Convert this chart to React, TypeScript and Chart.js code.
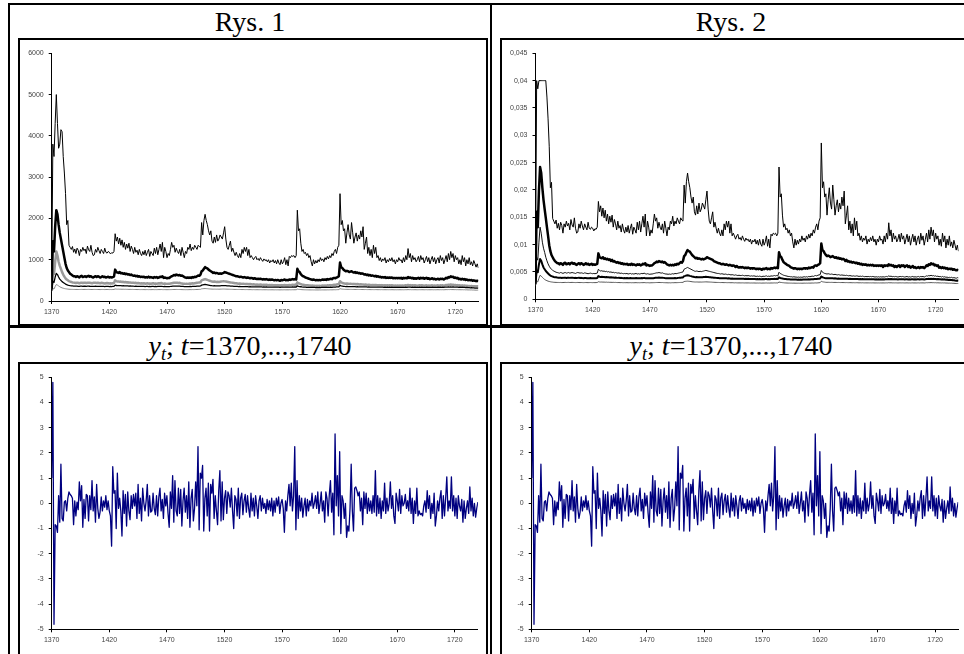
import { useEffect, useRef } from 'react';
import { Chart, registerables } from 'chart.js';
Chart.register(...registerables);

const YEARS: number[] = Array.from({ length: 371 }, (_, i) => 1370 + i);
const X_TICKS = [1370, 1420, 1470, 1520, 1570, 1620, 1670, 1720];
const Y1_TICKS = [0, 1000, 2000, 3000, 4000, 5000, 6000];
const Y2_TICKS = [0, 0.005, 0.01, 0.015, 0.02, 0.025, 0.03, 0.035, 0.04, 0.045];
const Y3_TICKS = [-5, -4, -3, -2, -1, 0, 1, 2, 3, 4, 5];

// Rys. 1
const R1_A = [
450,3800,3500,4300,5000,4300,3700,3800,4150,4100,
3500,3100,2600,1850,1950,1350,1300,1250,1320,1180,
1260,1150,1280,1230,1100,1250,1200,1300,1220,1260,
1150,1330,1240,1200,1350,1180,1100,1120,1250,1180,
1300,1220,1150,1250,1200,1150,1280,1180,1160,1200,
1180,1140,1170,1160,1200,1630,1450,1550,1380,1520,
1350,1480,1300,1420,1250,1380,1280,1400,1200,1330,
1250,1150,1300,1180,1230,1120,1250,1150,1100,1200,
1120,1230,1100,1180,1250,1080,1200,1150,1100,1280,
1150,1300,1120,1250,1380,1200,1420,1050,1300,1200,
1050,1150,1100,1250,1420,1300,1350,1180,1280,1200,
1150,1250,1100,1300,1180,1050,1200,1150,1300,1250,
1380,1220,1300,1250,1350,1300,1250,1350,1320,1300,
1900,1600,1950,2100,1950,1850,1700,1600,1700,1450,
1400,1550,1420,1600,1450,1500,1600,1550,1500,1650,
1800,1500,1300,1250,1350,1450,1200,1280,1180,1100,
1180,1100,1050,1150,1050,1250,1150,1300,1200,1300,
1100,1250,1050,1100,1050,1000,1050,1080,1000,1030,
980,1050,1000,960,1020,980,1000,950,1000,920,
980,950,1000,920,980,900,1000,920,880,1000,
900,950,1050,880,1000,850,1080,1050,1100,1080,
1100,1050,1100,2200,1700,1750,1400,1200,1250,1150,
1180,1100,1150,1050,1100,950,850,1000,900,980,
920,1000,950,1050,980,1020,950,1050,1000,1080,
1020,1100,1050,1150,1100,1200,1250,1150,1300,1350,
2600,1850,1950,1700,1750,1400,1650,1850,1600,1500,
1900,1650,1400,1550,1650,1450,1600,1500,1700,1550,
1800,1250,1400,1550,1150,1300,1100,1250,1050,1350,
1150,1300,1050,1100,980,1050,950,1020,980,1050,
920,1000,950,1030,970,1050,950,1000,900,1000,
950,1050,980,1000,920,1050,950,1100,1000,1270,
1050,1150,950,1100,1000,1050,950,1000,1080,950,
1100,1000,1050,920,1000,1080,950,1050,900,1000,
1080,950,1050,900,1000,1050,920,1100,980,1050,
900,1000,1100,950,1150,1000,1200,1050,1150,950,
1100,1000,1050,900,1000,880,1100,950,1050,850,
1000,900,1050,880,950,850,980,900,820,900,
800];

const R1_B = [
300,1450,1200,1800,2200,2100,1850,1650,1500,1350,
1200,1050,900,800,740,700,660,640,620,600,
600,580,600,590,570,600,610,580,590,600,
580,600,610,590,600,580,570,590,600,580,
600,590,570,580,600,580,590,570,580,590,
570,580,570,580,590,760,700,690,680,700,
670,680,660,670,650,660,640,650,630,640,
620,610,620,600,610,590,600,580,590,580,
590,570,580,570,590,570,580,570,560,580,
570,580,560,570,590,580,600,560,570,560,
550,560,560,580,600,610,630,620,640,630,
620,630,610,620,600,580,570,560,570,560,
570,560,580,570,590,580,600,620,610,640,
720,740,780,820,800,790,760,740,720,700,
680,690,670,680,670,660,670,660,670,680,
700,690,680,670,660,650,640,630,620,610,
600,600,590,580,590,580,570,580,570,560,
570,560,550,560,550,540,550,540,530,540,
530,540,530,520,530,520,530,520,510,520,
510,520,510,500,510,500,510,500,490,510,
500,510,520,500,510,500,520,510,520,530,
520,530,520,780,720,700,650,620,600,590,
570,560,550,540,530,520,510,520,510,500,
510,500,510,500,510,520,510,520,510,530,
520,530,540,530,550,560,550,570,580,600,
930,820,800,760,740,720,730,720,700,710,
720,700,690,700,680,690,670,680,660,670,
660,640,650,630,640,620,630,610,620,610,
600,610,590,600,580,590,570,580,570,580,
560,570,560,570,560,570,550,560,550,560,
550,560,550,560,540,560,550,560,550,580,
560,570,550,560,540,550,540,550,560,540,
560,550,560,540,550,560,540,550,530,540,
550,530,540,520,530,540,520,540,530,540,
520,540,560,550,580,570,600,580,590,560,
570,550,560,530,540,520,540,520,530,510,
520,500,510,500,510,490,500,490,480,490,
480];

const R1_C = [
280,700,650,950,1200,1100,950,850,780,700,
640,590,550,520,500,480,470,460,450,445,
440,435,445,440,430,440,445,435,440,445,
435,440,445,440,435,430,440,445,440,435,
440,435,430,440,435,430,425,430,435,430,
425,430,425,430,435,500,480,470,475,465,
470,460,465,455,460,450,455,445,450,440,
445,440,435,440,430,435,430,425,430,425,
430,420,425,430,420,425,420,425,430,420,
425,420,425,430,425,435,425,420,425,420,
415,420,420,425,430,435,440,440,445,440,
435,440,430,425,420,420,415,420,415,420,
425,420,430,425,430,435,440,445,450,455,
500,510,520,530,520,510,500,490,480,470,
465,470,465,460,465,460,465,470,475,480,
475,470,465,460,455,450,445,440,435,430,
430,425,420,425,420,415,420,415,410,415,
410,405,410,405,400,405,400,395,400,395,
395,400,395,390,395,390,395,390,385,390,
385,390,385,380,385,380,385,380,375,385,
380,385,390,380,385,380,390,385,390,395,
390,395,390,450,430,420,410,400,395,390,
385,380,380,375,375,370,375,370,370,365,
370,365,370,365,370,375,370,375,370,380,
375,380,385,380,390,395,390,400,405,410,
480,450,440,430,425,420,425,420,415,420,
415,410,415,410,405,410,405,400,405,400,
400,395,400,395,390,395,390,385,390,385,
385,390,385,380,385,380,385,380,375,380,
375,380,375,380,375,380,375,370,375,370,
375,370,375,370,375,370,375,380,375,390,
380,385,375,380,375,380,375,370,375,380,
375,380,375,370,375,380,370,375,370,375,
380,370,375,370,375,380,370,380,375,380,
370,380,390,385,395,390,400,390,395,385,
390,380,385,375,380,370,380,370,375,365,
370,360,365,360,365,355,360,355,350,360,
355];

const R1_D = [
250,480,450,580,670,640,580,530,500,470,
450,430,410,395,385,378,372,368,365,362,
360,358,360,355,356,358,360,355,357,358,
356,358,360,357,355,356,354,356,358,355,
356,354,352,355,354,352,350,352,354,352,
350,352,350,352,354,385,375,372,374,370,
372,368,370,366,368,364,366,362,364,360,
362,358,356,358,355,356,354,352,354,352,
354,350,352,354,350,352,350,352,354,350,
352,350,352,354,352,356,352,350,352,350,
348,350,350,352,355,358,360,360,362,360,
358,360,356,354,352,350,348,350,348,350,
352,350,354,352,354,356,358,360,362,364,
385,390,395,400,395,390,385,380,375,370,
368,370,368,366,368,366,368,370,372,374,
372,370,368,366,364,362,360,358,356,354,
354,352,350,352,350,348,350,348,346,348,
346,344,346,344,342,344,342,340,342,340,
340,342,340,338,340,338,340,338,336,338,
336,338,336,334,336,334,336,334,332,336,
334,336,338,334,336,334,338,336,338,340,
338,340,338,365,355,350,345,340,338,336,
334,332,332,330,330,328,330,328,328,326,
328,326,328,326,328,330,328,330,328,332,
330,332,334,332,336,338,336,340,342,345,
380,365,360,355,352,350,352,350,348,350,
348,346,348,346,344,346,344,342,344,342,
342,340,342,340,338,340,338,336,338,336,
336,338,336,334,336,334,336,334,332,334,
332,334,332,334,332,334,332,330,332,330,
332,330,332,330,332,330,332,334,332,338,
334,336,332,334,332,334,332,330,332,334,
332,334,332,330,332,334,330,332,330,332,
334,330,332,330,332,334,330,334,332,334,
330,334,338,336,340,338,342,338,340,336,
338,334,336,332,334,330,334,330,332,326,
328,322,324,320,322,316,318,314,310,314,
310];

const R1_E = [
230,300,290,350,400,385,365,345,330,318,
310,302,296,292,288,285,283,282,281,280,
280,279,280,278,279,280,281,279,280,281,
279,280,281,280,279,278,279,280,279,278,
279,278,277,278,279,278,277,278,279,278,
277,278,277,278,279,292,288,286,287,285,
286,284,285,283,284,282,283,281,282,280,
281,279,278,279,277,278,277,276,277,276,
277,275,276,277,275,276,275,276,277,275,
276,275,276,277,276,278,276,275,276,275,
274,275,275,276,277,278,279,279,280,279,
278,279,277,276,275,275,274,275,274,275,
276,275,277,276,277,278,279,280,281,282,
295,298,300,302,300,298,295,292,290,288,
287,288,287,286,287,286,287,288,289,290,
289,288,287,286,285,284,283,282,281,280,
280,279,278,279,278,277,278,277,276,277,
276,275,276,275,274,275,274,273,274,273,
273,274,273,272,273,272,273,272,271,272,
271,272,271,270,271,270,271,270,269,271,
270,271,272,270,271,270,272,271,272,273,
272,273,272,288,282,280,277,275,273,272,
271,270,270,269,269,268,269,268,268,267,
268,267,268,267,268,269,268,269,268,270,
269,270,271,270,272,273,272,274,275,277,
300,292,288,285,283,282,283,282,281,282,
281,280,281,280,279,280,279,278,279,278,
278,277,278,277,276,277,276,275,276,275,
275,276,275,274,275,274,275,274,273,274,
273,274,273,274,273,274,273,272,273,272,
273,272,273,272,273,272,273,274,273,276,
274,275,273,274,273,274,273,272,273,274,
273,274,273,272,273,274,272,273,272,273,
274,272,273,272,273,274,272,274,273,274,
272,274,276,275,277,276,278,276,277,275,
276,274,275,273,274,272,274,272,273,270,
271,268,269,267,268,265,266,264,262,264,
262];

// Rys. 2
const R2_A = [
.0050,.0400,.0385,.0400,.0400,.0400,.0400,.0400,.0400,.0400,
.0370,.0330,.0280,.0204,.0214,.0148,.0143,.0138,.0145,.0130,
.0139,.0127,.0141,.0135,.0121,.0138,.0132,.0143,.0134,.0139,
.0127,.0146,.0136,.0132,.0149,.0130,.0121,.0123,.0138,.0130,
.0143,.0134,.0127,.0138,.0132,.0127,.0141,.0130,.0128,.0132,
.0130,.0125,.0129,.0128,.0132,.0179,.0160,.0171,.0152,.0167,
.0149,.0163,.0143,.0156,.0138,.0152,.0141,.0154,.0132,.0146,
.0138,.0127,.0143,.0130,.0135,.0123,.0138,.0127,.0121,.0132,
.0123,.0135,.0121,.0130,.0138,.0119,.0132,.0127,.0121,.0141,
.0127,.0143,.0123,.0138,.0152,.0132,.0156,.0116,.0143,.0132,
.0116,.0127,.0121,.0138,.0156,.0143,.0149,.0130,.0141,.0132,
.0127,.0138,.0121,.0143,.0130,.0116,.0132,.0127,.0143,.0138,
.0152,.0134,.0143,.0138,.0149,.0143,.0138,.0149,.0145,.0143,
.0209,.0176,.0215,.0231,.0215,.0204,.0187,.0176,.0187,.0160,
.0154,.0171,.0156,.0176,.0160,.0165,.0176,.0171,.0165,.0182,
.0198,.0165,.0143,.0138,.0149,.0160,.0132,.0141,.0130,.0121,
.0130,.0121,.0116,.0127,.0116,.0138,.0127,.0143,.0132,.0143,
.0121,.0138,.0116,.0121,.0116,.0110,.0116,.0119,.0110,.0113,
.0108,.0116,.0110,.0106,.0112,.0108,.0110,.0105,.0110,.0101,
.0108,.0105,.0110,.0101,.0108,.0099,.0110,.0101,.0097,.0110,
.0099,.0105,.0116,.0097,.0110,.0094,.0119,.0116,.0121,.0119,
.0121,.0116,.0121,.0242,.0187,.0193,.0154,.0132,.0138,.0127,
.0130,.0121,.0127,.0116,.0121,.0105,.0094,.0110,.0099,.0108,
.0101,.0110,.0105,.0116,.0108,.0112,.0105,.0116,.0110,.0119,
.0112,.0121,.0116,.0127,.0121,.0132,.0138,.0127,.0143,.0149,
.0286,.0204,.0215,.0187,.0193,.0154,.0182,.0204,.0176,.0165,
.0209,.0182,.0154,.0171,.0182,.0160,.0176,.0165,.0187,.0171,
.0198,.0138,.0154,.0171,.0127,.0143,.0121,.0138,.0116,.0149,
.0127,.0143,.0116,.0121,.0108,.0116,.0105,.0112,.0108,.0116,
.0101,.0110,.0105,.0113,.0107,.0116,.0105,.0110,.0099,.0110,
.0105,.0116,.0108,.0110,.0101,.0116,.0105,.0121,.0110,.0140,
.0116,.0127,.0105,.0121,.0110,.0116,.0105,.0110,.0119,.0105,
.0121,.0110,.0116,.0101,.0110,.0119,.0105,.0116,.0099,.0110,
.0119,.0105,.0116,.0099,.0110,.0116,.0101,.0121,.0108,.0116,
.0099,.0110,.0121,.0105,.0127,.0110,.0132,.0116,.0127,.0105,
.0121,.0110,.0116,.0099,.0110,.0097,.0121,.0105,.0116,.0094,
.0110,.0099,.0116,.0097,.0105,.0094,.0108,.0099,.0090,.0099,
.0088];

const R2_B = [
.0033,.0160,.0132,.0198,.0242,.0231,.0204,.0182,.0165,.0149,
.0132,.0116,.0099,.0088,.0081,.0077,.0073,.0070,.0068,.0066,
.0066,.0064,.0066,.0065,.0063,.0066,.0067,.0064,.0065,.0066,
.0064,.0066,.0067,.0065,.0066,.0064,.0063,.0065,.0066,.0064,
.0066,.0065,.0063,.0064,.0066,.0064,.0065,.0063,.0064,.0065,
.0063,.0064,.0063,.0064,.0065,.0084,.0077,.0076,.0075,.0077,
.0074,.0075,.0073,.0074,.0072,.0073,.0070,.0072,.0069,.0070,
.0068,.0067,.0068,.0066,.0067,.0065,.0066,.0064,.0065,.0064,
.0065,.0063,.0064,.0063,.0065,.0063,.0064,.0063,.0062,.0064,
.0063,.0064,.0062,.0063,.0065,.0064,.0066,.0062,.0063,.0062,
.0061,.0062,.0062,.0064,.0066,.0067,.0069,.0068,.0070,.0069,
.0068,.0069,.0067,.0068,.0066,.0064,.0063,.0062,.0063,.0062,
.0063,.0062,.0064,.0063,.0065,.0064,.0066,.0068,.0067,.0070,
.0079,.0081,.0086,.0090,.0088,.0087,.0084,.0081,.0079,.0077,
.0075,.0076,.0074,.0075,.0074,.0073,.0074,.0073,.0074,.0075,
.0077,.0076,.0075,.0074,.0073,.0072,.0070,.0069,.0068,.0067,
.0066,.0066,.0065,.0064,.0065,.0064,.0063,.0064,.0063,.0062,
.0063,.0062,.0061,.0062,.0061,.0059,.0061,.0059,.0058,.0059,
.0058,.0059,.0058,.0057,.0058,.0057,.0058,.0057,.0056,.0057,
.0056,.0057,.0056,.0055,.0056,.0055,.0056,.0055,.0054,.0056,
.0055,.0056,.0057,.0055,.0056,.0055,.0057,.0056,.0057,.0058,
.0057,.0058,.0057,.0086,.0079,.0077,.0072,.0068,.0066,.0065,
.0063,.0062,.0061,.0059,.0058,.0057,.0056,.0057,.0056,.0055,
.0056,.0055,.0056,.0055,.0056,.0057,.0056,.0057,.0056,.0058,
.0057,.0058,.0059,.0058,.0061,.0062,.0061,.0063,.0064,.0066,
.0102,.0090,.0088,.0084,.0081,.0079,.0080,.0079,.0077,.0078,
.0079,.0077,.0076,.0077,.0075,.0076,.0074,.0075,.0073,.0074,
.0073,.0070,.0072,.0069,.0070,.0068,.0069,.0067,.0068,.0067,
.0066,.0067,.0065,.0066,.0064,.0065,.0063,.0064,.0063,.0064,
.0062,.0063,.0062,.0063,.0062,.0063,.0061,.0062,.0061,.0062,
.0061,.0062,.0061,.0062,.0059,.0062,.0061,.0062,.0061,.0064,
.0062,.0063,.0061,.0062,.0059,.0061,.0059,.0061,.0062,.0059,
.0062,.0061,.0062,.0059,.0061,.0062,.0059,.0061,.0058,.0059,
.0061,.0058,.0059,.0057,.0058,.0059,.0057,.0059,.0058,.0059,
.0057,.0059,.0062,.0061,.0064,.0063,.0066,.0064,.0065,.0062,
.0063,.0061,.0062,.0058,.0059,.0057,.0059,.0057,.0058,.0056,
.0057,.0055,.0056,.0055,.0056,.0054,.0055,.0054,.0053,.0054,
.0053];

const R2_C = [
.00308,.0077,.00715,.01045,.0132,.0121,.01045,.00935,.00858,.0077,
.00704,.00649,.00605,.00572,.0055,.00528,.00517,.00506,.00495,.0049,
.00484,.00479,.0049,.00484,.00473,.00484,.0049,.00479,.00484,.0049,
.00479,.00484,.0049,.00484,.00479,.00473,.00484,.0049,.00484,.00479,
.00484,.00479,.00473,.00484,.00479,.00473,.00468,.00473,.00479,.00473,
.00468,.00473,.00468,.00473,.00479,.0055,.00528,.00517,.00523,.00512,
.00517,.00506,.00512,.00501,.00506,.00495,.00501,.0049,.00495,.00484,
.0049,.00484,.00479,.00484,.00473,.00479,.00473,.00468,.00473,.00468,
.00473,.00462,.00468,.00473,.00462,.00468,.00462,.00468,.00473,.00462,
.00468,.00462,.00468,.00473,.00468,.00479,.00468,.00462,.00468,.00462,
.00457,.00462,.00462,.00468,.00473,.00479,.00484,.00484,.0049,.00484,
.00479,.00484,.00473,.00468,.00462,.00462,.00457,.00462,.00457,.00462,
.00468,.00462,.00473,.00468,.00473,.00479,.00484,.0049,.00495,.00501,
.0055,.00561,.00572,.00583,.00572,.00561,.0055,.00539,.00528,.00517,
.00512,.00517,.00512,.00506,.00512,.00506,.00512,.00517,.00523,.00528,
.00523,.00517,.00512,.00506,.00501,.00495,.0049,.00484,.00479,.00473,
.00473,.00468,.00462,.00468,.00462,.00457,.00462,.00457,.00451,.00457,
.00451,.00446,.00451,.00446,.0044,.00446,.0044,.00435,.0044,.00435,
.00435,.0044,.00435,.00429,.00435,.00429,.00435,.00429,.00424,.00429,
.00424,.00429,.00424,.00418,.00424,.00418,.00424,.00418,.00413,.00424,
.00418,.00424,.00429,.00418,.00424,.00418,.00429,.00424,.00429,.00435,
.00429,.00435,.00429,.00495,.00473,.00462,.00451,.0044,.00435,.00429,
.00424,.00418,.00418,.00413,.00413,.00407,.00413,.00407,.00407,.00402,
.00407,.00402,.00407,.00402,.00407,.00413,.00407,.00413,.00407,.00418,
.00413,.00418,.00424,.00418,.00429,.00435,.00429,.0044,.00446,.00451,
.00528,.00495,.00484,.00473,.00468,.00462,.00468,.00462,.00457,.00462,
.00457,.00451,.00457,.00451,.00446,.00451,.00446,.0044,.00446,.0044,
.0044,.00435,.0044,.00435,.00429,.00435,.00429,.00424,.00429,.00424,
.00424,.00429,.00424,.00418,.00424,.00418,.00424,.00418,.00413,.00418,
.00413,.00418,.00413,.00418,.00413,.00418,.00413,.00407,.00413,.00407,
.00413,.00407,.00413,.00407,.00413,.00407,.00413,.00418,.00413,.00429,
.00418,.00424,.00413,.00418,.00413,.00418,.00413,.00407,.00413,.00418,
.00413,.00418,.00413,.00407,.00413,.00418,.00407,.00413,.00407,.00413,
.00418,.00407,.00413,.00407,.00413,.00418,.00407,.00418,.00413,.00418,
.00407,.00418,.00429,.00424,.00435,.00429,.0044,.00429,.00435,.00424,
.00429,.00418,.00424,.00413,.00418,.00407,.00418,.00407,.00413,.00402,
.00407,.00396,.00402,.00396,.00402,.00391,.00396,.00391,.00385,.00396,
.00391];

const R2_D = [
.00275,.00528,.00495,.00638,.00737,.00704,.00638,.00583,.0055,.00517,
.00495,.00473,.00451,.00435,.00424,.00416,.00409,.00405,.00402,.00398,
.00396,.00394,.00396,.00391,.00392,.00394,.00396,.00391,.00393,.00394,
.00392,.00394,.00396,.00393,.00391,.00392,.00389,.00392,.00394,.00391,
.00392,.00389,.00387,.00391,.00389,.00387,.00385,.00387,.00389,.00387,
.00385,.00387,.00385,.00387,.00389,.00424,.00413,.00409,.00411,.00407,
.00409,.00405,.00407,.00403,.00405,.004,.00403,.00398,.004,.00396,
.00398,.00394,.00392,.00394,.00391,.00392,.00389,.00387,.00389,.00387,
.00389,.00385,.00387,.00389,.00385,.00387,.00385,.00387,.00389,.00385,
.00387,.00385,.00387,.00389,.00387,.00392,.00387,.00385,.00387,.00385,
.00383,.00385,.00385,.00387,.00391,.00394,.00396,.00396,.00398,.00396,
.00394,.00396,.00392,.00389,.00387,.00385,.00383,.00385,.00383,.00385,
.00387,.00385,.00389,.00387,.00389,.00392,.00394,.00396,.00398,.004,
.00424,.00429,.00435,.0044,.00435,.00429,.00424,.00418,.00413,.00407,
.00405,.00407,.00405,.00403,.00405,.00403,.00405,.00407,.00409,.00411,
.00409,.00407,.00405,.00403,.004,.00398,.00396,.00394,.00392,.00389,
.00389,.00387,.00385,.00387,.00385,.00383,.00385,.00383,.00381,.00383,
.00381,.00378,.00381,.00378,.00376,.00378,.00376,.00374,.00376,.00374,
.00374,.00376,.00374,.00372,.00374,.00372,.00374,.00372,.0037,.00372,
.0037,.00372,.0037,.00367,.0037,.00367,.0037,.00367,.00365,.0037,
.00367,.0037,.00372,.00367,.0037,.00367,.00372,.0037,.00372,.00374,
.00372,.00374,.00372,.00402,.00391,.00385,.0038,.00374,.00372,.0037,
.00367,.00365,.00365,.00363,.00363,.00361,.00363,.00361,.00361,.00359,
.00361,.00359,.00361,.00359,.00361,.00363,.00361,.00363,.00361,.00365,
.00363,.00365,.00367,.00365,.0037,.00372,.0037,.00374,.00376,.0038,
.00418,.00402,.00396,.00391,.00387,.00385,.00387,.00385,.00383,.00385,
.00383,.00381,.00383,.00381,.00378,.00381,.00378,.00376,.00378,.00376,
.00376,.00374,.00376,.00374,.00372,.00374,.00372,.0037,.00372,.0037,
.0037,.00372,.0037,.00367,.0037,.00367,.0037,.00367,.00365,.00367,
.00365,.00367,.00365,.00367,.00365,.00367,.00365,.00363,.00365,.00363,
.00365,.00363,.00365,.00363,.00365,.00363,.00365,.00367,.00365,.00372,
.00367,.0037,.00365,.00367,.00365,.00367,.00365,.00363,.00365,.00367,
.00365,.00367,.00365,.00363,.00365,.00367,.00363,.00365,.00363,.00365,
.00367,.00363,.00365,.00363,.00365,.00367,.00363,.00367,.00365,.00367,
.00363,.00367,.00372,.0037,.00374,.00372,.00376,.00372,.00374,.0037,
.00372,.00367,.0037,.00365,.00367,.00363,.00367,.00363,.00365,.00359,
.00361,.00354,.00356,.00352,.00354,.00348,.0035,.00345,.00341,.00345,
.00341];

const R2_E = [
.00253,.0033,.00319,.00385,.0044,.00424,.00402,.0038,.00363,.0035,
.00341,.00332,.00326,.00321,.00317,.00314,.00311,.0031,.00309,.00308,
.00308,.00307,.00308,.00306,.00307,.00308,.00309,.00307,.00308,.00309,
.00307,.00308,.00309,.00308,.00307,.00306,.00307,.00308,.00307,.00306,
.00307,.00306,.00305,.00306,.00307,.00306,.00305,.00306,.00307,.00306,
.00305,.00306,.00305,.00306,.00307,.00321,.00317,.00315,.00316,.00314,
.00315,.00312,.00314,.00311,.00312,.0031,.00311,.00309,.0031,.00308,
.00309,.00307,.00306,.00307,.00305,.00306,.00305,.00304,.00305,.00304,
.00305,.00303,.00304,.00305,.00303,.00304,.00303,.00304,.00305,.00303,
.00304,.00303,.00304,.00305,.00304,.00306,.00304,.00303,.00304,.00303,
.00301,.00303,.00303,.00304,.00305,.00306,.00307,.00307,.00308,.00307,
.00306,.00307,.00305,.00304,.00303,.00303,.00301,.00303,.00301,.00303,
.00304,.00303,.00305,.00304,.00305,.00306,.00307,.00308,.00309,.0031,
.00325,.00328,.0033,.00332,.0033,.00328,.00325,.00321,.00319,.00317,
.00316,.00317,.00316,.00315,.00316,.00315,.00316,.00317,.00318,.00319,
.00318,.00317,.00316,.00315,.00314,.00312,.00311,.0031,.00309,.00308,
.00308,.00307,.00306,.00307,.00306,.00305,.00306,.00305,.00304,.00305,
.00304,.00303,.00304,.00303,.00301,.00303,.00301,.003,.00301,.003,
.003,.00301,.003,.00299,.003,.00299,.003,.00299,.00298,.00299,
.00298,.00299,.00298,.00297,.00298,.00297,.00298,.00297,.00296,.00298,
.00297,.00298,.00299,.00297,.00298,.00297,.00299,.00298,.00299,.003,
.00299,.003,.00299,.00317,.0031,.00308,.00305,.00303,.003,.00299,
.00298,.00297,.00297,.00296,.00296,.00295,.00296,.00295,.00295,.00294,
.00295,.00294,.00295,.00294,.00295,.00296,.00295,.00296,.00295,.00297,
.00296,.00297,.00298,.00297,.00299,.003,.00299,.00301,.00303,.00305,
.0033,.00321,.00317,.00314,.00311,.0031,.00311,.0031,.00309,.0031,
.00309,.00308,.00309,.00308,.00307,.00308,.00307,.00306,.00307,.00306,
.00306,.00305,.00306,.00305,.00304,.00305,.00304,.00303,.00304,.00303,
.00303,.00304,.00303,.00301,.00303,.00301,.00303,.00301,.003,.00301,
.003,.00301,.003,.00301,.003,.00301,.003,.00299,.003,.00299,
.003,.00299,.003,.00299,.003,.00299,.003,.00301,.003,.00304,
.00301,.00303,.003,.00301,.003,.00301,.003,.00299,.003,.00301,
.003,.00301,.003,.00299,.003,.00301,.00299,.003,.00299,.003,
.00301,.00299,.003,.00299,.003,.00301,.00299,.00301,.003,.00301,
.00299,.00301,.00304,.00303,.00305,.00304,.00306,.00304,.00305,.00303,
.00304,.00301,.00303,.003,.00301,.00299,.00301,.00299,.003,.00297,
.00298,.00295,.00296,.00294,.00295,.00292,.00293,.0029,.00288,.0029,
.00288];

// y_t
const Y_T = [
1.0,4.8,-4.8,-0.85,-0.9,-1.15,0.3,-0.75,1.55,-0.6,
-0.7,0.05,0.1,-0.3,0.2,0.45,0.35,0.3,0.2,-0.85,
0.1,-0.5,0.05,-0.25,0.85,0.1,0.7,-0.95,0.15,-0.6,
0.35,0.3,-0.7,0.3,-0.25,0.9,-0.3,0.25,-0.75,0.75,
-0.2,-0.6,-0.35,0.25,-0.3,0.1,-0.15,0.3,-0.25,0.1,
-0.3,-0.5,-1.7,1.45,0.4,0.5,-1.0,1.2,-0.2,0.2,
-0.3,-1.3,0.5,-0.4,0.35,-0.9,0.45,-0.3,-0.65,0.3,
-0.2,0.35,-0.1,0.4,-0.6,0.75,-0.4,0.2,-0.7,0.6,
0.0,-0.3,0.1,0.75,-0.5,0.3,-0.35,-0.3,0.4,-0.2,
-0.45,0.3,-0.5,0.25,0.6,-0.3,0.15,-0.6,0.4,-0.1,
0.3,-0.4,-0.95,0.45,-0.2,1.1,-0.75,0.9,-0.3,-0.5,
0.6,-0.4,0.55,-0.9,0.1,0.6,-0.35,0.3,-0.6,0.85,
-0.95,0.2,0.55,-0.7,-0.2,0.85,-0.1,2.25,-1.05,1.2,
1.0,1.5,-1.1,0.2,0.6,-0.5,0.8,-1.1,0.75,0.4,
0.95,-0.6,0.3,-0.3,-0.85,0.5,1.3,-0.7,0.85,-0.65,
0.2,0.5,-0.4,0.45,0.3,-0.15,0.6,-0.3,-1.0,0.3,
0.15,-0.5,0.6,-0.6,0.2,0.4,-0.45,0.1,0.35,-0.35,
0.3,-0.2,-0.55,0.4,-0.3,0.2,-0.5,0.3,-0.1,-0.6,
0.1,0.3,-0.3,0.2,-0.2,0.0,-0.4,0.15,-0.25,0.1,
-0.3,0.2,-0.5,0.1,-0.35,0.2,-0.1,0.25,-0.4,0.0,
0.15,-0.2,-1.15,0.1,-0.3,0.3,0.75,-0.1,0.8,-0.3,
0.3,2.25,-1.05,0.9,-0.6,0.3,-0.3,0.2,-0.55,-0.1,
0.2,-0.5,0.15,-0.3,0.1,-0.1,0.4,-0.2,0.0,0.3,
-0.2,0.45,-0.4,0.0,0.45,-0.3,0.1,-0.75,0.45,0.2,
-0.5,0.35,0.9,-0.35,0.4,-1.25,2.75,-0.1,1.1,-0.5,
2.05,-1.2,0.3,0.1,-0.6,0.0,-1.35,-0.9,-1.1,-0.2,
1.55,-0.3,-1.1,0.6,0.65,0.5,0.3,0.45,-0.3,0.2,
-0.85,0.45,-0.2,0.4,-0.4,0.2,-0.3,0.1,-0.4,0.3,
-0.35,1.3,-0.5,0.3,-0.4,0.2,-0.6,0.1,-0.3,0.8,
-0.4,0.2,-0.3,0.0,0.85,-0.2,0.3,-0.5,-0.8,0.4,
0.1,-0.3,0.55,-0.4,0.3,-0.1,0.0,0.35,-0.2,0.1,
-0.3,0.6,-0.4,0.2,-0.8,0.1,-0.4,0.6,-0.5,-0.3,
-0.45,-0.4,-0.5,-0.1,0.1,-0.35,0.5,-0.2,0.3,-0.6,
0.0,-0.4,0.4,-0.9,-0.5,0.1,-0.3,0.2,0.5,-0.6,
0.3,-0.5,0.2,1.05,-0.3,0.1,-0.2,1.05,-0.3,0.3,
-0.5,0.2,-0.6,0.3,-0.1,-0.3,0.15,-0.75,0.1,-0.6,
-0.2,0.1,-0.4,0.65,-0.3,0.2,-0.5,0.0,-0.55,-0.2,
0.05];

type Geo = { yWidth: number; padTop: number; padRight: number; xHeight: number };

function makeOptions(geo: Geo, yTicks: number[], fmt: (v: number) => string): any {
  const tickFont = { size: 7, family: 'Liberation Sans, Arial, sans-serif' };
  return {
    animation: false,
    responsive: false,
    maintainAspectRatio: false,
    events: [],
    layout: { padding: { top: geo.padTop, right: geo.padRight, left: 0, bottom: 0 } },
    plugins: { legend: { display: false }, tooltip: { enabled: false }, title: { display: false } },
    elements: { point: { radius: 0 }, line: { tension: 0, borderJoinStyle: 'round' } },
    scales: {
      x: {
        type: 'linear',
        min: 1370,
        max: 1740,
        afterBuildTicks: (s: any) => { s.ticks = X_TICKS.map((v) => ({ value: v })); },
        afterFit: (s: any) => { s.height = geo.xHeight; },
        grid: { display: true, drawOnChartArea: false, drawTicks: true, tickLength: 3, color: '#000', lineWidth: 1 },
        border: { display: true, color: '#000', width: 1 },
        ticks: { color: '#444', font: tickFont, padding: 4, maxRotation: 0, autoSkip: false, callback: (v: any) => String(v) },
      },
      y: {
        type: 'linear',
        min: yTicks[0],
        max: yTicks[yTicks.length - 1],
        afterBuildTicks: (s: any) => { s.ticks = yTicks.map((v) => ({ value: v })); },
        afterFit: (s: any) => { s.width = geo.yWidth; },
        grid: { display: true, drawOnChartArea: false, drawTicks: true, tickLength: 3, color: '#000', lineWidth: 1 },
        border: { display: true, color: '#000', width: 1 },
        ticks: { color: '#444', font: tickFont, padding: 5, autoSkip: false, callback: (v: any) => fmt(Number(v)) },
      },
    },
  };
}

function ChartBox(props: { left: number; top: number; width: number; height: number; config: any }) {
  const ref = useRef<HTMLCanvasElement | null>(null);
  useEffect(() => {
    if (!ref.current) return;
    const chart = new Chart(ref.current, props.config);
    return () => chart.destroy();
  }, []);
  return (
    <canvas
      ref={ref}
      width={props.width}
      height={props.height}
      style={{ position: 'absolute', left: props.left, top: props.top, width: props.width, height: props.height }}
    />
  );
}

const fmtInt = (v: number) => String(Math.round(v));
const fmtDec = (v: number) => (v === 0 ? '0' : String(Number(v.toFixed(3))).replace('.', ','));

const ds = (data: number[], color: string, width: number) => ({
  data,
  borderColor: color,
  borderWidth: width,
  pointRadius: 0,
  fill: false,
});

const cfg1 = {
  type: 'line',
  data: {
    labels: YEARS,
    datasets: [
      ds(R1_A, '#000', 1),
      ds(R1_B, '#000', 2.5),
      ds(R1_D, '#000', 1.3),
      ds(R1_C, '#9a9a9a', 2.5),
      ds(R1_E, '#888', 1),
    ],
  },
  options: makeOptions({ yWidth: 31.7, padTop: 13.3, padRight: 7.6, xHeight: 24 }, Y1_TICKS, fmtInt),
};

const cfg2 = {
  type: 'line',
  data: {
    labels: YEARS,
    datasets: [
      ds(R2_A, '#000', 1),
      ds(R2_B, '#000', 2.5),
      ds(R2_C, '#111', 1),
      ds(R2_D, '#000', 2),
      ds(R2_E, '#555', 1),
    ],
  },
  options: makeOptions({ yWidth: 33.5, padTop: 13.3, padRight: 5.5, xHeight: 25.7 }, Y2_TICKS, fmtDec),
};

const cfg3 = {
  type: 'line',
  data: { labels: YEARS, datasets: [ds(Y_T, '#000080', 1.3)] },
  options: makeOptions({ yWidth: 31.7, padTop: 13.3, padRight: 8.1, xHeight: 24.7 }, Y3_TICKS, fmtInt),
};

const cfg4 = {
  type: 'line',
  data: { labels: YEARS, datasets: [ds(Y_T, '#000080', 1.3)] },
  options: makeOptions({ yWidth: 29.7, padTop: 13.3, padRight: 5.8, xHeight: 24.7 }, Y3_TICKS, fmtInt),
};

function Line(p: { left: number; top: number; width: number; height: number }) {
  return <div style={{ position: 'absolute', left: p.left, top: p.top, width: p.width, height: p.height, background: '#000' }} />;
}

function Frame(p: { left: number; top: number; width: number; height: number }) {
  return (
    <div
      style={{
        position: 'absolute',
        left: p.left,
        top: p.top,
        width: p.width,
        height: p.height,
        border: '2px solid #000',
        boxSizing: 'border-box',
      }}
    />
  );
}

function Title(p: { left: number; width: number; top: number; children: any }) {
  return (
    <div
      style={{
        position: 'absolute',
        left: p.left,
        width: p.width,
        top: p.top,
        height: 30,
        lineHeight: '28px',
        fontSize: 28,
        fontFamily: '"Liberation Serif", "Times New Roman", serif',
        textAlign: 'center',
        color: '#000',
        whiteSpace: 'nowrap',
      }}
    >
      {p.children}
    </div>
  );
}

function YtTitle() {
  return (
    <>
      <i>y</i>
      <sub style={{ fontStyle: 'italic', fontSize: '0.65em', verticalAlign: '-0.25em', lineHeight: 0 }}>t</sub>; <i>t</i>
      =1370,...,1740
    </>
  );
}

export default function App() {
  return (
    <div
      style={{
        position: 'absolute',
        left: 0,
        top: 0,
        width: 964,
        height: 654,
        overflow: 'hidden',
        background: '#fff',
      }}
    >
      {/* table outer borders and dividers */}
      <Line left={8} top={3} width={1000} height={2} />
      <Line left={8} top={3} width={2} height={700} />
      <Line left={490} top={3} width={2} height={700} />
      <Line left={8} top={325} width={1000} height={2.5} />

      {/* chart frames */}
      <Frame left={18} top={38} width={470} height={288} />
      <Frame left={500} top={38} width={480} height={288} />
      <Frame left={18} top={362} width={470} height={400} />
      <Frame left={500} top={362} width={480} height={400} />

      {/* titles */}
      <Title left={10} width={480} top={8}>Rys. 1</Title>
      <Title left={492} width={478} top={8}>Rys. 2</Title>
      <Title left={10} width={480} top={332}><YtTitle /></Title>
      <Title left={492} width={478} top={332}><YtTitle /></Title>

      <ChartBox left={20} top={40} width={466} height={285} config={cfg1} />
      <ChartBox left={502} top={40} width={462} height={285} config={cfg2} />
      <ChartBox left={20} top={364} width={466} height={290} config={cfg3} />
      <ChartBox left={502} top={364} width={462} height={290} config={cfg4} />
    </div>
  );
}
